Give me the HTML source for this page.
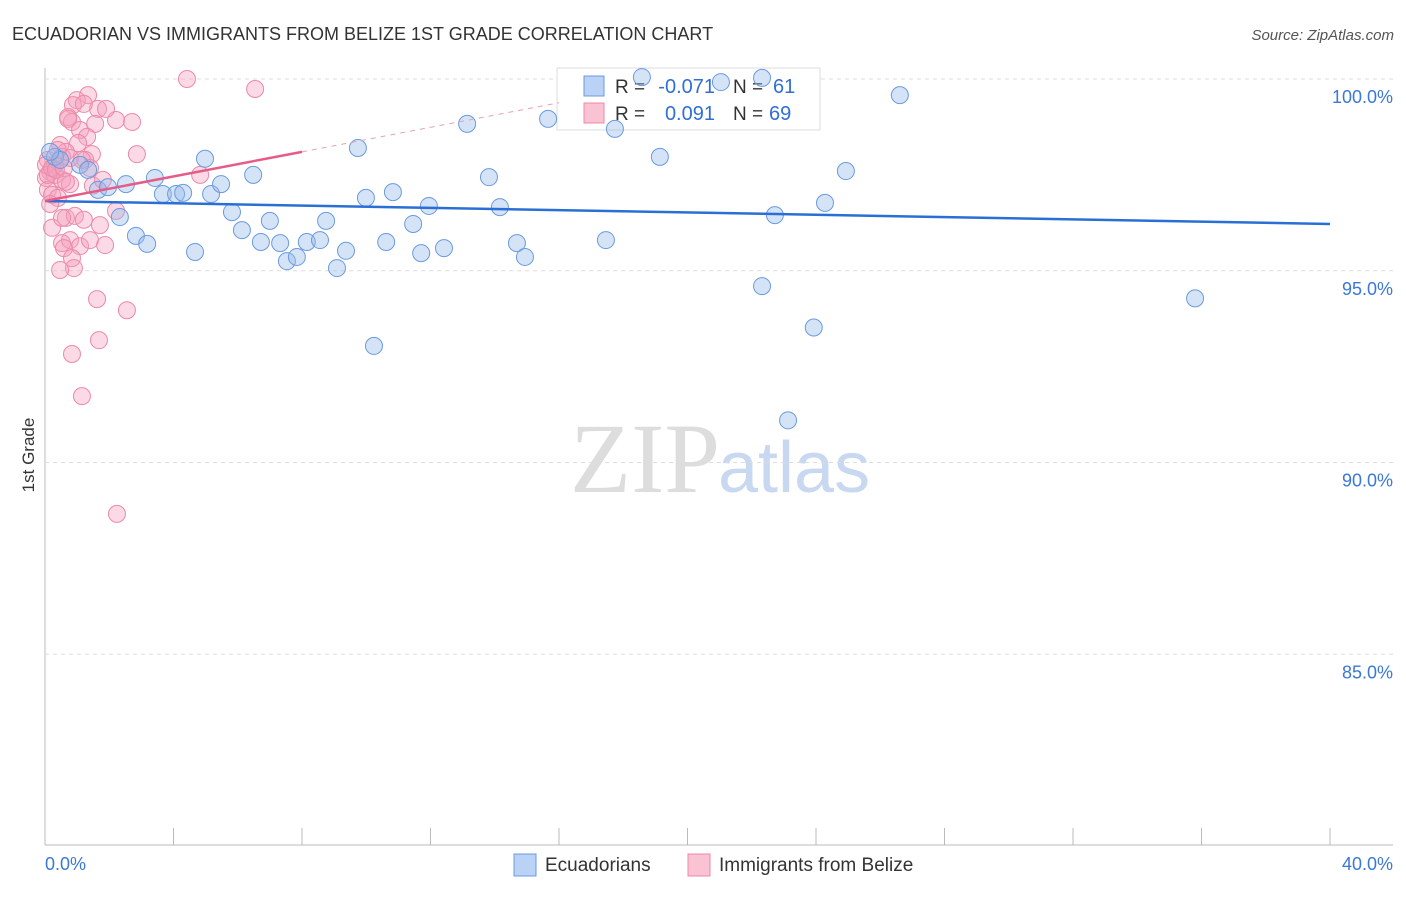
<!DOCTYPE html>
<html><head><meta charset="utf-8"><style>
body{margin:0;background:#fff;font-family:"Liberation Sans",sans-serif}
</style></head><body>
<svg id="c" width="1406" height="892" xmlns="http://www.w3.org/2000/svg">
<text x="12" y="40" font-size="18" fill="#333">ECUADORIAN VS IMMIGRANTS FROM BELIZE 1ST GRADE CORRELATION CHART</text>
<text x="1394" y="40" font-size="15" fill="#555" font-style="italic" text-anchor="end">Source: ZipAtlas.com</text>
<text x="34" y="455" font-size="17" fill="#333" transform="rotate(-90 34 455)" text-anchor="middle">1st Grade</text>
<text x="720" y="492" font-size="100" fill="#ddd" font-family="Liberation Serif,serif" text-anchor="end">ZIP</text>
<text x="718" y="492" font-size="72" fill="#c8d8f0">atlas</text>
<g id="grid"></g>
<g>
<rect x="557" y="68" width="263" height="62" fill="#fff" stroke="#ddd"/>
<rect x="584" y="76" width="20" height="20" fill="#b9d2f5" stroke="#6a9be0"/>
<rect x="584" y="103" width="20" height="20" fill="#f9c3d3" stroke="#ec8aa8"/>
<text x="615" y="93" font-size="19" fill="#333">R =</text>
<text x="715" y="93" font-size="20" fill="#2f6fd6" text-anchor="end">-0.071</text>
<text x="733" y="93" font-size="19" fill="#333">N =</text>
<text x="773" y="93" font-size="20" fill="#2f6fd6">61</text>
<text x="615" y="120" font-size="19" fill="#333">R =</text>
<text x="715" y="120" font-size="20" fill="#2f6fd6" text-anchor="end">0.091</text>
<text x="733" y="120" font-size="19" fill="#333">N =</text>
<text x="769" y="120" font-size="20" fill="#2f6fd6">69</text>
</g>
<g id="pink"></g><g id="blue"></g><g id="lines"></g>
<g>
<rect x="514" y="854" width="22" height="22" fill="#b9d2f5" stroke="#6a9be0"/>
<text x="545" y="871" font-size="19" fill="#333">Ecuadorians</text>
<rect x="688" y="854" width="22" height="22" fill="#f9c3d3" stroke="#ec8aa8"/>
<text x="719" y="871" font-size="19" fill="#333">Immigrants from Belize</text>
</g>
</svg>
<script>
const yTicks=[100,95,90,85];
const xTickLabels=["0.0%","40.0%"];
const blueX=[0.31,0.47,1.09,1.34,1.65,1.96,2.52,2.33,2.83,3.18,3.42,3.67,4.08,4.30,4.67,4.98,5.17,5.48,5.82,6.13,6.48,6.72,7.00,7.32,7.53,7.84,8.15,8.56,8.75,9.09,9.37,9.74,9.99,10.24,10.62,10.83,11.46,11.71,11.95,12.42,13.14,13.82,14.16,14.69,14.94,15.66,17.46,17.74,18.58,19.14,21.04,22.32,22.32,22.72,23.93,24.28,24.93,23.13,26.61,35.80,0.16];
const blueY=[97.97,97.89,97.76,97.63,97.11,97.18,97.26,96.40,95.91,95.70,97.42,97.00,97.00,97.03,95.49,97.92,97.00,97.26,96.53,96.06,97.50,95.75,96.30,95.72,95.25,95.36,95.75,95.80,96.30,95.07,95.52,98.20,96.90,93.04,95.75,97.05,96.22,95.46,96.69,95.59,98.83,97.44,96.66,95.72,95.36,98.96,95.80,98.70,100.05,97.97,99.92,100.03,94.60,96.45,93.52,96.77,97.60,91.10,99.58,94.28,98.10];
const pinkX=[4.42,6.54,1.34,0.99,0.87,1.65,1.21,0.72,0.84,2.21,2.71,1.09,1.56,1.31,0.47,1.03,0.65,1.46,2.86,0.09,0.31,0.53,0.78,1.25,0.16,0.03,0.31,0.53,0.78,1.49,1.80,0.09,0.22,0.40,4.83,2.21,0.65,0.93,1.21,0.22,1.71,0.53,0.78,1.09,1.40,1.87,0.59,0.84,0.90,0.47,1.62,2.55,1.68,0.84,1.15,2.24,0.03,0.09,0.22,0.34,0.59,0.65,0.16,0.53,1.15,1.40,0.40,0.72,1.90];
const pinkY=[100.00,99.74,99.58,99.45,99.32,99.22,99.35,99.01,98.88,98.93,98.88,98.67,98.83,98.49,98.28,98.33,98.10,98.04,98.04,97.89,97.76,97.97,97.94,97.89,97.58,97.42,97.50,97.37,97.26,97.22,97.37,97.11,96.98,96.90,97.50,96.56,96.38,96.43,96.33,96.12,96.19,95.72,95.80,95.64,95.80,95.67,95.59,95.33,95.07,95.02,94.26,93.97,93.19,92.83,91.73,88.66,97.76,97.50,97.68,97.63,97.68,97.32,96.74,96.38,97.89,97.68,98.15,98.96,99.22];
const blueFit=[96.82,96.22];
const pinkFit=[96.82,98.10];
const X=v=>45+v*32.125, Y=v=>79+(100-v)*38.35;
const NS="http://www.w3.org/2000/svg";
function mk(p,t,a){const e=document.createElementNS(NS,t);for(const k in a)e.setAttribute(k,a[k]);document.getElementById(p).appendChild(e);return e;}
mk('grid','line',{x1:45,y1:68,x2:45,y2:845,stroke:'#bbb'});
mk('grid','line',{x1:45,y1:845,x2:1393,y2:845,stroke:'#bbb'});
for(let i=0;i<=10;i++){const t=mk('grid','line',{x1:X(i*4),y1:828,x2:X(i*4),y2:845,stroke:'#bbb'});

}
yTicks.forEach(v=>{const g=mk('grid','line',{x1:45,y1:Y(v),x2:1393,y2:Y(v),stroke:'#ddd','stroke-dasharray':'4,4'});


const t=mk('grid','text',{x:1393,y:Y(v)+24,'font-size':18,fill:'#3a78d8','text-anchor':'end'});t.textContent=v.toFixed(1)+'%';

});
[[0,'start',45],[40,'end',1393]].forEach((d,i)=>{const t=mk('grid','text',{x:d[2],y:870,'font-size':18,fill:'#3a78d8','text-anchor':d[1]});t.textContent=xTickLabels[i];

});
pinkX.forEach((x,i)=>{const c=mk('pink','circle',{cx:X(x),cy:Y(pinkY[i]),r:8.5,fill:'rgba(245,160,190,0.4)',stroke:'#ec8aa8','stroke-width':1});

});
blueX.forEach((x,i)=>{const c=mk('blue','circle',{cx:X(x),cy:Y(blueY[i]),r:8.5,fill:'rgba(150,185,235,0.4)',stroke:'#6a9be0','stroke-width':1});

});
let l=mk('lines','line',{x1:X(0),y1:Y(blueFit[0]),x2:X(40),y2:Y(blueFit[1]),stroke:'#2a6fd6','stroke-width':2.5});


const ps=(pinkFit[1]-pinkFit[0])/8;
l=mk('lines','line',{x1:X(8),y1:Y(pinkFit[1]),x2:X(16),y2:Y(pinkFit[0]+ps*16),stroke:'#e8a0b8','stroke-width':1,'stroke-dasharray':'5,5'});


l=mk('lines','line',{x1:X(0),y1:Y(pinkFit[0]),x2:X(8),y2:Y(pinkFit[1]),stroke:'#e55c88','stroke-width':2.5});


</script>
</body></html>
